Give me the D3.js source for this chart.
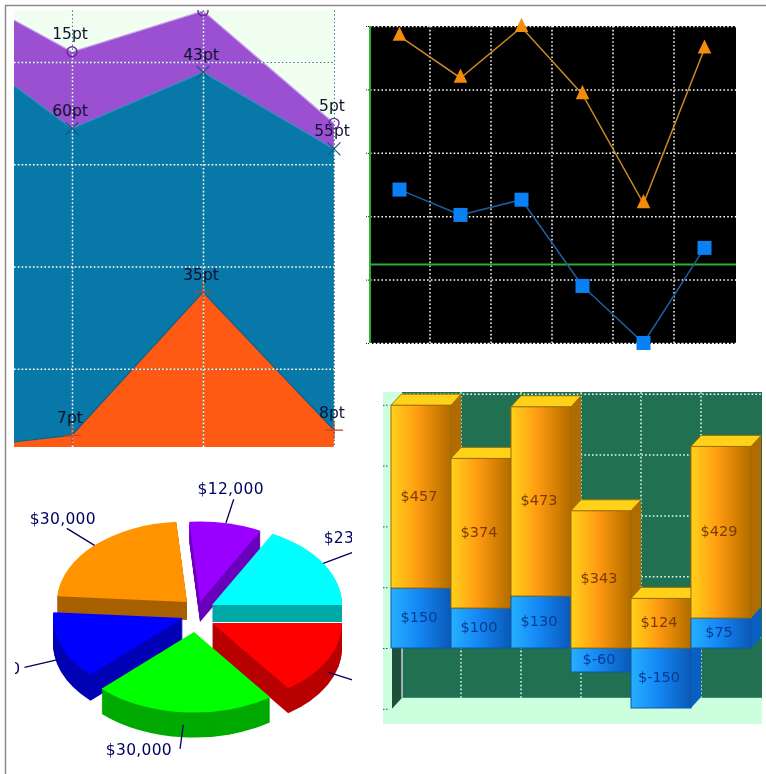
<!DOCTYPE html>
<html>
<head>
<meta charset="utf-8">
<script src="https://d3js.org/d3.v7.min.js"></script>
<style>
body { margin: 0; background: #fff; }
svg { display: block; filter: blur(0.4px); }
text { font-family: "DejaVu Sans", sans-serif; }
</style>
</head>
<body>
<svg id="chart" width="766" height="774"></svg>
<script>
// ---- data ----
// stacked area (top left)
var areaCats = ["Q1", "Q2", "Q3", "Q4"];
var areaRed = [4, 7, 35, 8];
var areaTeal = [82, 60, 43, 55];
var areaPurple = [10, 15, 12, 5];
var areaTicks = [20, 40, 60, 80];

// line chart (top right)
var lineCats = ["A", "B", "C", "D", "E", "F"];
var lineOrange = [180, 147, 187, 134, 48, 170];
var lineBlue = [59, 39, 51, -17, -62, 13];
var lineTicks = [-62, -12, 38, 88, 138, 188];

// 3d pie (bottom left), anticlockwise from 3 o'clock
var pieValues = [23000, 12000, 30000, 18000, 30000, 20000];
var pieLabels = ["$23,000", "$12,000", "$30,000", "$18,000", "$30,000", "$20,000"];

// 3d stacked bars (bottom right)
var barCats = ["A", "B", "C", "D", "E", "F"];
var barLower = [150, 100, 130, -60, -150, 75];
var barUpper = [457, 374, 473, 343, 124, 429];
var barTicks = [-152, 0, 152, 304, 456, 608];

var svg = d3.select("#chart");
var defs = svg.append("defs");

function clipRect(id, x, y, w, h) {
    defs.append("clipPath").attr("id", id).append("rect")
        .attr("x", x).attr("y", y).attr("width", w).attr("height", h);
}

// the dotted grid is a white dash with a darker dash in its gaps
function styleGrid(g, white, grey) {
    g.select(".domain").remove();
    g.selectAll(".tick text").remove();
    g.selectAll(".tick line").each(function() {
        var t = d3.select(this);
        var clone = this.cloneNode();
        this.parentNode.insertBefore(clone, this);
        d3.select(clone).attr("stroke", grey).attr("stroke-width", 1)
            .attr("stroke-dasharray", "1.6,2.2").attr("stroke-dashoffset", 1.9);
        t.attr("stroke", white).attr("stroke-width", 1.5)
            .attr("stroke-dasharray", "1.6,2.2");
    });
}

// page frame
svg.append("line").attr("x1", 5.5).attr("x2", 5.5).attr("y1", 5).attr("y2", 774).attr("stroke", "#8a8a8a").attr("stroke-width", 1.5);
svg.append("line").attr("x1", 5).attr("x2", 766).attr("y1", 5.5).attr("y2", 5.5).attr("stroke", "#8a8a8a").attr("stroke-width", 1.5);

// ---- stacked area ----
function drawArea() {
    var left = 14, right = 334, top = 10, bottom = 447;
    var x = d3.scalePoint().domain(areaCats).range([-59, right]);
    var y = d3.scaleLinear().domain([0, 80]).range([471, 62]);

    clipRect("clipArea", left, top, right - left, bottom - top);
    clipRect("clipMarks", left, top, 352 - left, bottom + 6 - top);

    var rows = areaCats.map(function(c, i) {
        return { cat: c, red: areaRed[i], teal: areaTeal[i], purple: areaPurple[i] };
    });
    var keys = ["red", "teal", "purple"];
    var colors = { red: "#ff5a14", teal: "#0878a8", purple: "#9b50d2" };
    var edges = { red: "#0a5f88", teal: "#2f8fc0", purple: "#c9a0ee" };
    var series = d3.stack().keys(keys)(rows);

    svg.append("rect").attr("x", left).attr("y", top)
        .attr("width", right - left).attr("height", bottom - top).attr("fill", "#f0fff0");

    var area = d3.area().x(function(d) { return x(d.data.cat); })
        .y0(function(d) { return y(d[0]); }).y1(function(d) { return y(d[1]); });
    var line = d3.line().x(function(d) { return x(d.data.cat); }).y(function(d) { return y(d[1]); });

    var plot = svg.append("g").attr("clip-path", "url(#clipArea)");
    // top layer first so the lower ones sit on it
    series.slice().reverse().forEach(function(s) {
        plot.append("path").attr("d", area(s)).attr("fill", colors[s.key]);
    });
    series.slice().reverse().forEach(function(s) {
        plot.append("path").attr("d", line(s)).attr("fill", "none")
            .attr("stroke", edges[s.key]).attr("stroke-width", 1.2);
    });

    // grey-teal gaps: they fade on the fill and read as dark dots on the pale background
    svg.append("g").attr("transform", "translate(" + left + ",0)")
        .call(d3.axisLeft(y).tickValues(areaTicks).tickSize(-(right - left)).tickFormat(""))
        .call(styleGrid, "#fff", "#3f7f88");
    svg.append("g").attr("transform", "translate(0," + bottom + ")")
        .call(d3.axisBottom(x).tickValues(areaCats.slice(1)).tickSize(-(bottom - top)).tickFormat(""))
        .call(styleGrid, "#fff", "#3f7f88");

    // markers and value labels
    var marks = svg.append("g").attr("clip-path", "url(#clipMarks)");
    series.forEach(function(s) {
        s.forEach(function(d, i) {
            var px = x(d.data.cat), py = y(d[1]);
            if (s.key == "purple") {
                marks.append("circle").attr("cx", px).attr("cy", py).attr("r", 5)
                    .attr("fill", "none").attr("stroke", "#6a2a90").attr("stroke-width", 1.4);
            } else if (s.key == "teal") {
                marks.append("path").attr("d", d3.symbol().type(d3.symbolTimes).size(110)())
                    .attr("transform", "translate(" + px + "," + py + ")")
                    .attr("stroke", "#0d5a78").attr("stroke-width", 1.1).attr("fill", "none");
            } else {
                marks.append("path").attr("d", d3.symbol().type(d3.symbolPlus).size(110)())
                    .attr("transform", "translate(" + px + "," + py + ")")
                    .attr("stroke", "#c2421c").attr("stroke-width", 1.1).attr("fill", "none");
            }
            // the first category and the highest point fall outside the plot, no label there
            if (px < left || py - 17 < top) return;
            marks.append("text").attr("x", px - 2).attr("y", py - 17)
                .attr("text-anchor", "middle").attr("dominant-baseline", "middle")
                .attr("font-size", 15.5).attr("fill", "#101030")
                .text(d.data[s.key] + "pt");
        });
    });
}

// ---- line chart ----
function drawLines() {
    var left = 370, right = 736, top = 26, bottom = 343;
    var x = d3.scaleBand().domain(lineCats).range([left - 1, right - 1]);
    var y = d3.scaleLinear().domain([-62, 188]).range([bottom, top]);
    var cx = function(c) { return x(c) + x.bandwidth() / 2; };

    svg.append("rect").attr("x", left).attr("y", top)
        .attr("width", right - left).attr("height", bottom - top).attr("fill", "#000");

    // dots just left of the plot continue the horizontal grid
    svg.append("g").attr("transform", "translate(" + (left - 4) + ",0)")
        .call(d3.axisRight(y).tickValues(lineTicks).tickSize(4).tickFormat(""))
        .call(function(g) {
            g.select(".domain").remove();
            g.selectAll("line").attr("stroke", "#222").attr("stroke-dasharray", "1,1");
        });
    svg.append("g").attr("transform", "translate(" + left + ",0)")
        .call(d3.axisLeft(y).tickValues(lineTicks).tickSize(-(right - left)).tickFormat(""))
        .call(styleGrid, "#fff", "#000");
    svg.append("g").attr("transform", "translate(0," + bottom + ")")
        .call(d3.axisBottom(x).tickValues(lineCats.slice(1)).tickSize(-(bottom - top)).tickFormat("").offset(0))
        .call(styleGrid, "#fff", "#000")
        .selectAll(".tick").attr("transform", function(d) { return "translate(" + x(d) + ",0)"; });

    svg.append("line").attr("x1", left).attr("x2", left).attr("y1", top).attr("y2", bottom)
        .attr("stroke", "#2fae2f").attr("stroke-width", 2);
    svg.append("line").attr("x1", left).attr("x2", right).attr("y1", y(0)).attr("y2", y(0))
        .attr("stroke", "#2fae2f").attr("stroke-width", 2);

    var line = d3.line().x(function(d, i) { return cx(lineCats[i]); }).y(function(d) { return y(d); });
    svg.append("path").attr("d", line(lineOrange)).attr("fill", "none")
        .attr("stroke", "#c88a24").attr("stroke-width", 1.5);
    svg.append("path").attr("d", line(lineBlue)).attr("fill", "none")
        .attr("stroke", "#1c5e9e").attr("stroke-width", 1.5);

    svg.append("g").selectAll("path").data(lineOrange).join("path")
        .attr("d", d3.symbol().type(d3.symbolTriangle).size(80)())
        .attr("transform", function(d, i) { return "translate(" + cx(lineCats[i]) + "," + y(d) + ") scale(1,1.2)"; })
        .attr("fill", "#f28c0a");
    var size = 14;
    svg.append("g").selectAll("rect").data(lineBlue).join("rect")
        .attr("x", function(d, i) { return cx(lineCats[i]) - size / 2; })
        .attr("y", function(d) { return y(d) - size / 2; })
        .attr("width", size).attr("height", size).attr("fill", "#0a80f5");
}

// ---- 3d pie ----
function drawPie() {
    var R = 130, k = 0.62;
    var colors = ["#00ffff", "#9900ff", "#ff9400", "#0000ff", "#00ff00", "#ff0000"];
    var walls = ["#00a8a8", "#6a00bb", "#a86000", "#0000b4", "#00aa00", "#b80000"];
    // where each exploded slice's tip ends up, and how deep it looks
    var tipX = [212, 200, 187, 183, 194, 212];
    var tipY = [605, 602, 602, 618, 632, 623];
    var depth = [17, 20, 18, 26, 25, 25];
    var labelDx = [-33, -3, -4, -4, -8, 5];
    var labelDy = [-12, -10, -9, 2, 2, 0];
    var anchors = ["start", "middle", "middle", "end", "end", "start"];
    var order = [1, 2, 0, 3, 5, 4];    // back to front
    var clipRight = 352;

    clipRect("clipPie", 15, 460, clipRight - 15, 310);

    var pie = d3.pie().sort(null).startAngle(Math.PI / 2).endAngle(Math.PI / 2 - 2 * Math.PI);
    var arcs = pie(pieValues);
    var arc = d3.arc().innerRadius(0).outerRadius(R);
    var g = svg.append("g").attr("clip-path", "url(#clipPie)");

    order.forEach(function(i) {
        // the wall is the same slice repeated downwards one pixel at a time
        for (var d = depth[i]; d > 0; d--) {
            g.append("path").attr("d", arc(arcs[i])).attr("fill", walls[i])
                .attr("transform", "translate(" + tipX[i] + "," + (tipY[i] + d) + ") scale(1," + k + ")");
        }
        g.append("path").attr("d", arc(arcs[i])).attr("fill", colors[i])
            .attr("transform", "translate(" + tipX[i] + "," + tipY[i] + ") scale(1," + k + ")");
    });

    arcs.forEach(function(a, i) {
        var mid = (a.startAngle + a.endAngle) / 2;
        var dx = Math.sin(mid) * R, dy = -Math.cos(mid) * R * k;
        // front slices hang the leader off the middle of the wall
        var drop = dy > 0 ? depth[i] / 2 : 0;
        var x0 = tipX[i] + dx, y0 = tipY[i] + dy + drop;
        var x1 = x0 + dx * 0.3, y1 = y0 + dy * 0.3;
        g.append("line").attr("x1", x0).attr("y1", y0).attr("x2", x1).attr("y2", y1)
            .attr("stroke", "#000060").attr("stroke-width", 1.3);
        // the red slice's label starts past the clip edge
        if (anchors[i] == "start" && x1 + labelDx[i] >= clipRight) return;
        g.append("text").attr("x", x1 + labelDx[i]).attr("y", y1 + labelDy[i])
            .attr("text-anchor", anchors[i]).attr("dominant-baseline", "middle")
            .attr("font-size", 15.5).attr("letter-spacing", 0.3)
            .attr("fill", "#000060").text(pieLabels[i]);
    });
}

// ---- 3d stacked bars ----
function drawBars() {
    var left = 383, right = 762, top = 392, bottom = 724;
    var dx = 10, dy = -11;    // depth of the 3d effect
    var x = d3.scaleBand().domain(barCats).range([391, 751]);
    var y = d3.scaleLinear().domain([-150, 600]).range([708, 408]);

    clipRect("clipBars", left, top, right - left, bottom - top);

    var grad = function(id, stops) {
        var lg = defs.append("linearGradient").attr("id", id);
        stops.forEach(function(s) {
            lg.append("stop").attr("offset", s[0]).attr("stop-color", s[1]);
        });
    };
    grad("barOrange", [[0, "#ffd21a"], [0.45, "#ff9a12"], [0.85, "#c87800"], [1, "#b06c00"]]);
    grad("barBlue", [[0, "#26b0ff"], [0.45, "#1488f5"], [1, "#0a58b8"]]);

    var style = {
        upper: { front: "url(#barOrange)", side: "#b06c00", top: "#ffd21a", edge: "#a06a00", text: "#7a3c00" },
        lower: { front: "url(#barBlue)", side: "#0a5fc4", top: "#26a0f5", edge: "#0a5aa8", text: "#083c90" }
    };

    var g = svg.append("g").attr("clip-path", "url(#clipBars)");
    g.append("rect").attr("x", left).attr("y", top).attr("width", right - left)
        .attr("height", bottom - top).attr("fill", "#ccffdd");

    // back wall and dark left wall
    var wallTop = y(barTicks[5]) + dy, wallBottom = y(barTicks[0]) + dy;
    var wallLeft = 391 + dx + 1;
    g.append("rect").attr("x", wallLeft).attr("y", top).attr("width", right - wallLeft)
        .attr("height", wallBottom - top).attr("fill", "#227052");
    g.append("path").attr("fill", "#1f4f3a")
        .attr("d", d3.line()([[wallLeft - dx, wallTop - dy], [wallLeft, wallTop], [wallLeft, wallBottom], [wallLeft - dx, wallBottom - dy]]));
    g.append("line").attr("x1", wallLeft).attr("x2", wallLeft).attr("y1", wallTop).attr("y2", wallBottom)
        .attr("stroke", "#eef").attr("stroke-width", 1.2);

    // grid lives on the back wall
    g.append("g").attr("transform", "translate(" + wallLeft + "," + dy + ")")
        .call(d3.axisLeft(y).tickValues(barTicks.slice(1)).tickSize(-(right - wallLeft)).tickFormat(""))
        .call(styleGrid, "#dff", "#227052");
    var gridX = d3.axisBottom(x).tickValues(barCats.slice(1)).tickSize(-(wallBottom - top)).tickFormat("");
    g.append("g").attr("transform", "translate(" + dx + "," + wallBottom + ")")
        .call(gridX).call(styleGrid, "#dff", "#227052")
        .selectAll(".tick").attr("transform", function(d) { return "translate(" + x(d) + ",0)"; });

    // little dotted ticks on the left
    svg.append("g").attr("transform", "translate(" + left + ",0)")
        .call(d3.axisRight(y).tickValues(barTicks).tickSize(6).tickFormat(""))
        .call(function(a) {
            a.select(".domain").remove();
            a.selectAll("line").attr("stroke", "#446").attr("stroke-dasharray", "1.5,1.5");
        });

    var rows = barCats.map(function(c, i) { return { cat: c, lower: barLower[i], upper: barUpper[i] }; });
    var series = d3.stack().keys(["lower", "upper"]).offset(d3.stackOffsetDiverging)(rows);
    var poly = d3.line();

    barCats.forEach(function(c, i) {
        var x0 = x(c), x1 = x0 + x.bandwidth();
        series.forEach(function(s) {
            var st = style[s.key], yTop = y(Math.max(s[i][0], s[i][1])), yBot = y(Math.min(s[i][0], s[i][1]));
            g.append("path").attr("fill", st.side)
                .attr("d", poly([[x1, yTop], [x1 + dx, yTop + dy], [x1 + dx, yBot + dy], [x1, yBot]]));
            g.append("path").attr("fill", st.top).attr("stroke", st.edge).attr("stroke-width", 0.8)
                .attr("d", poly([[x0, yTop], [x0 + dx, yTop + dy], [x1 + dx, yTop + dy], [x1, yTop]]));
            g.append("rect").attr("x", x0).attr("y", yTop).attr("width", x1 - x0).attr("height", yBot - yTop)
                .attr("fill", st.front).attr("stroke", st.edge).attr("stroke-width", 1);
        });
        series.forEach(function(s) {
            g.append("text").attr("x", (x0 + x1) / 2 - 2).attr("y", (y(s[i][0]) + y(s[i][1])) / 2)
                .attr("text-anchor", "middle").attr("dominant-baseline", "middle")
                .attr("font-size", 14.5).attr("fill", style[s.key].text)
                .text("$" + rows[i][s.key]);
        });
    });
}

drawArea();
drawLines();
drawPie();
drawBars();
</script>
</body>
</html>
